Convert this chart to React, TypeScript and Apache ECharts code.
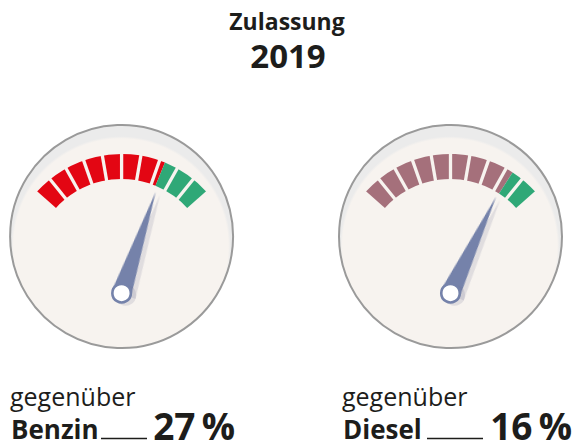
import React, { useEffect, useRef } from "react";
import * as echarts from "echarts";

// ---- data ----
const titleLines = ["Zulassung", "2019"];
const compareLabel = "gegenüber";
const fuels = ["Benzin", "Diesel"];
const shares = [27, 16]; // percent (green part of the dial)
const arcColors = ["#e30613", "#a5707b"];
const greenColor = "#2fa877";
const segmentCount = 10;

// ---- styling / layout ----
const W = 579;
const H = 445;
const FONT = "'Open Sans', 'Noto Sans', sans-serif";
const cream = "#f7f3ef";
const bandGrey = "#ebebeb";
const needleColor = "#7482aa";
const textColor = "#1d1d1b";
const gaugeCx = [121.6, 450.5];
const dialCy = 236.5;
const dialR = 111.5;
const arcCy = 268;
const arcR = 114;
const arcWidth = 25;
const hubCy = 293.2;
const labelLeft = [10, 342];
const valueRight = [235, 572];
const underline = [
  [101, 147],
  [427, 483],
];

export default function App() {
  const ref = useRef<HTMLDivElement>(null);
  useEffect(() => {
    document.body.style.margin = "0";
    const chart = echarts.init(ref.current!, null, { renderer: "svg", width: W, height: H });

    const series: any[] = [];
    const graphic: any[] = [];

    fuels.forEach((fuel, i) => {
      const cx = gaugeCx[i];
      const share = shares[i];

      // dial face
      graphic.push({
        type: "circle",
        z: -10,
        shape: { cx, cy: dialCy, r: dialR },
        style: {
          fill: new echarts.graphic.RadialGradient(0.497, 0.543, 0.55, [
            { offset: 0, color: cream },
            { offset: 0.875, color: cream },
            { offset: 0.895, color: bandGrey },
            { offset: 1, color: bandGrey },
          ]),
          stroke: "#9a9a9a",
          lineWidth: 2,
        },
      });

      // segmented arc
      series.push({
        type: "gauge",
        center: [cx, arcCy],
        radius: arcR,
        startAngle: 41.4,
        endAngle: 138.6,
        clockwise: false,
        min: 0,
        max: 100,
        splitNumber: segmentCount,
        axisLine: {
          show: true,
          roundCap: false,
          lineStyle: {
            width: arcWidth,
            color: [
              [share / 100, greenColor],
              [1, arcColors[i]],
            ],
          },
        },
        splitLine: {
          show: true,
          distance: -arcWidth - 2,
          length: arcWidth + 4,
          lineStyle: { color: cream, width: 3.3 },
        },
        axisTick: { show: false },
        axisLabel: { show: false },
        pointer: { show: false },
        anchor: { show: false },
        progress: { show: false },
        title: { show: false },
        detail: { show: false },
        data: [{ value: share, name: fuel }],
      });

      // needle (pivot below the arc centre)
      series.push({
        type: "gauge",
        center: [cx, hubCy],
        radius: 107,
        startAngle: 54.96,
        endAngle: 115.86,
        clockwise: false,
        min: 0,
        max: 100,
        axisLine: { show: false },
        splitLine: { show: false },
        axisTick: { show: false },
        axisLabel: { show: false },
        progress: { show: false },
        pointer: {
          show: true,
          icon: "path://M50 0 L100 100 L0 100 Z",
          length: "100%",
          width: 20,
          offsetCenter: [0, 0],
          itemStyle: {
            color: needleColor,
            shadowColor: "rgba(110,110,140,0.16)",
            shadowOffsetX: 5,
            shadowOffsetY: 1,
            shadowBlur: 1,
          },
        },
        anchor: {
          show: true,
          showAbove: true,
          size: 18.5,
          itemStyle: {
            color: "#ffffff",
            borderColor: needleColor,
            borderWidth: 2.6,
            shadowColor: "rgba(110,110,140,0.16)",
            shadowOffsetX: 4,
            shadowOffsetY: 2,
            shadowBlur: 1,
          },
        },
        title: { show: false },
        detail: { show: false },
        data: [{ value: share, name: fuel }],
      });

      // bottom texts
      graphic.push({
        type: "text",
        x: labelLeft[i],
        y: 396,
        style: {
          text: compareLabel,
          fontFamily: FONT,
          fontSize: 25,
          fontWeight: "normal",
          fill: textColor,
          textAlign: "left",
          textVerticalAlign: "middle",
        },
      });
      graphic.push({
        type: "text",
        x: labelLeft[i] + 1,
        y: 429,
        style: {
          text: fuel,
          fontFamily: FONT,
          fontSize: 26,
          fontWeight: "bold",
          fill: textColor,
          textAlign: "left",
          textVerticalAlign: "middle",
        },
      });
      graphic.push({
        type: "line",
        shape: { x1: underline[i][0], y1: 438.5, x2: underline[i][1], y2: 438.5 },
        style: { stroke: textColor, lineWidth: 1.5 },
      });
      graphic.push({
        type: "text",
        x: valueRight[i],
        y: 425,
        style: {
          text: share + "\u2009%",
          fontFamily: FONT,
          fontSize: 37,
          fontWeight: "bold",
          fill: textColor,
          textAlign: "right",
          textVerticalAlign: "middle",
        },
      });
    });

    // title
    graphic.push({
      type: "text",
      x: 287,
      y: 21,
      style: {
        text: titleLines[0],
        fontFamily: FONT,
        fontSize: 23,
        fontWeight: "bold",
        fill: textColor,
        textAlign: "center",
        textVerticalAlign: "middle",
      },
    });
    graphic.push({
      type: "text",
      x: 288,
      y: 55,
      style: {
        text: titleLines[1],
        fontFamily: FONT,
        fontSize: 33,
        fontWeight: "bold",
        fill: textColor,
        textAlign: "center",
        textVerticalAlign: "middle",
      },
    });

    chart.setOption({
      animation: false,
      backgroundColor: "#ffffff",
      series,
      graphic,
    });
    return () => chart.dispose();
  }, []);
  return <div ref={ref} style={{ width: W, height: H }} />;
}
